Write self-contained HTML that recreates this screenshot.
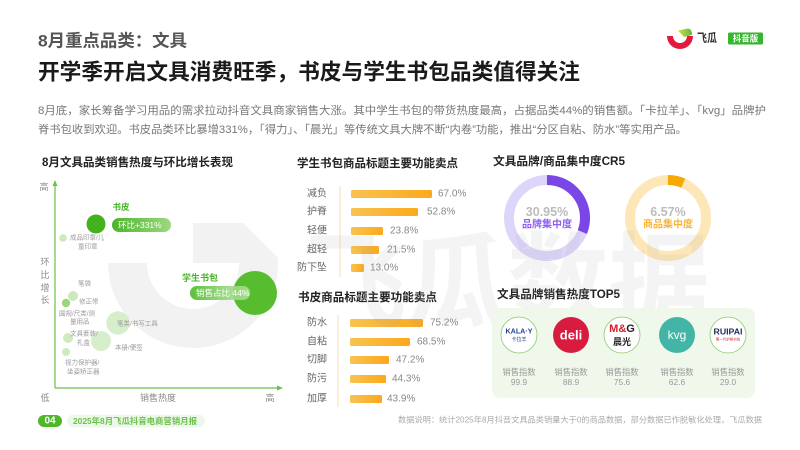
<!DOCTYPE html>
<html><head><meta charset="utf-8">
<style>
html,body{margin:0;padding:0;background:#fff;width:800px;height:450px;overflow:hidden;}
svg{display:block;}
text{font-family:"Liberation Sans","Noto Sans CJK SC",sans-serif;dominant-baseline:central;}
</style></head><body>
<svg width="800" height="450" viewBox="0 0 800 450" xmlns="http://www.w3.org/2000/svg">
<defs>
 <linearGradient id="bar" x1="0" x2="1" y1="0" y2="0"><stop offset="0" stop-color="#f8c350"/><stop offset="1" stop-color="#fca81c"/></linearGradient>
 <linearGradient id="p1" x1="0" x2="1" y1="0" y2="0"><stop offset="0" stop-color="#4db52a"/><stop offset="1" stop-color="#9cd97f"/></linearGradient>
 <linearGradient id="p2" x1="0" x2="1" y1="0" y2="0"><stop offset="0" stop-color="#5cbf38"/><stop offset="1" stop-color="#b5e4a0" stop-opacity="0.8"/></linearGradient>
 <linearGradient id="leaf" x1="0" x2="1" y1="0" y2="0"><stop offset="0" stop-color="#d4dc4a"/><stop offset="1" stop-color="#5fba3a"/></linearGradient>
</defs>
<rect width="800" height="450" fill="#fff"/>

<!-- U watermark shape -->
<path d="M108,263 A85,85 0 0 0 278,263 L278,258 L243,223 L193,223 L193,263 Z M147,263 A46,46 0 0 0 239,263 Z" fill="#f2f2f2" fill-rule="evenodd"/>

<!-- Header -->
<text x="38" y="41" font-size="17" font-weight="bold" fill="#555" textLength="149" lengthAdjust="spacingAndGlyphs">8月重点品类：文具</text>
<text x="38" y="72" font-size="22" font-weight="bold" fill="#1a1a1a" textLength="542" lengthAdjust="spacingAndGlyphs">开学季开启文具消费旺季，书皮与学生书包品类值得关注</text>
<text x="38" y="111" font-size="11" fill="#777" textLength="728" lengthAdjust="spacingAndGlyphs">8月底，家长筹备学习用品的需求拉动抖音文具商家销售大涨。其中学生书包的带货热度最高，占据品类44%的销售额。「卡拉羊」、「kvg」品牌护</text>
<text x="38" y="130" font-size="11" fill="#777" textLength="649" lengthAdjust="spacingAndGlyphs">脊书包收到欢迎。书皮品类环比暴增331%，「得力」、「晨光」等传统文具大牌不断“内卷”功能，推出“分区自粘、防水”等实用产品。</text>

<!-- Top-right logo -->
<path d="M667,36 A13,13 0 0 0 693,36 L687,36 A7,7 0 0 1 673,36 Z" fill="#e11b40"/>
<path d="M678,30.5 L688,28.5 Q692.5,29.5 692,35 L684,37 Z" fill="url(#leaf)"/>
<text x="697" y="38" font-size="12" font-weight="bold" fill="#333" textLength="20" lengthAdjust="spacingAndGlyphs">飞瓜</text>
<rect x="728" y="32.5" width="35" height="12" rx="1.5" fill="#36b52f"/>
<text x="745.5" y="38.5" font-size="8.5" font-weight="bold" fill="#fff" text-anchor="middle">抖音版</text>

<!-- Scatter -->
<text x="42" y="163" font-size="11.5" font-weight="bold" fill="#222" textLength="191" lengthAdjust="spacingAndGlyphs">8月文具品类销售热度与环比增长表现</text>
<line x1="55" y1="388" x2="55" y2="185" stroke="#6cc04a" stroke-width="1.2"/>
<path d="M52.5,186 L55,180 L57.5,186 Z" fill="#6cc04a"/>
<line x1="55" y1="388" x2="278" y2="388" stroke="#6cc04a" stroke-width="1.2"/>
<path d="M277,385.5 L283,388 L277,390.5 Z" fill="#6cc04a"/>
<text x="44" y="187" font-size="9" fill="#888" text-anchor="middle">高</text>
<text x="45" y="262" font-size="9" fill="#888" text-anchor="middle">环</text>
<text x="45" y="275" font-size="9" fill="#888" text-anchor="middle">比</text>
<text x="45" y="288" font-size="9" fill="#888" text-anchor="middle">增</text>
<text x="45" y="300" font-size="9" fill="#888" text-anchor="middle">长</text>
<text x="45" y="398" font-size="9" fill="#888" text-anchor="middle">低</text>
<text x="158" y="398" font-size="9" fill="#888" text-anchor="middle">销售热度</text>
<text x="270" y="398" font-size="9" fill="#888" text-anchor="middle">高</text>

<circle cx="63" cy="238" r="3.8" fill="#cdeabd"/>
<circle cx="73" cy="296" r="5" fill="#cbe9ba"/>
<circle cx="66" cy="303" r="4.2" fill="#9dd67f"/>
<circle cx="118" cy="323" r="11.7" fill="#d6efca"/>
<circle cx="68" cy="338" r="5" fill="#cfeabf"/>
<circle cx="101" cy="341" r="10" fill="#d6efca"/>
<circle cx="66" cy="352" r="4" fill="#cfeabf"/>

<g font-size="6.5" fill="#999">
<text x="70" y="238">成品印章/儿</text>
<text x="78" y="247">童印章</text>
<text x="78" y="284">笔袋</text>
<text x="79" y="302">修正带</text>
<text x="59" y="314">圆规/尺类/测</text>
<text x="70" y="322">量用品</text>
<text x="117" y="324">笔类/书写工具</text>
<text x="70" y="334">文具套装/</text>
<text x="77" y="343">礼盒</text>
<text x="115" y="348">本册/便签</text>
<text x="65" y="363">视力保护器/</text>
<text x="67" y="372">坐姿矫正器</text>
</g>

<circle cx="96" cy="224" r="9.5" fill="#44b11d"/>
<text x="121" y="207" font-size="8.5" font-weight="bold" fill="#48b526" text-anchor="middle">书皮</text>
<rect x="112" y="218" width="59" height="14" rx="7" fill="url(#p1)"/>
<text x="118" y="225" font-size="8.5" fill="#fff">环比+331%</text>

<circle cx="255" cy="293" r="22" fill="#58bd2e"/>
<text x="200" y="278" font-size="9" font-weight="bold" fill="#48b526" text-anchor="middle">学生书包</text>
<rect x="190" y="286" width="60" height="14" rx="7" fill="url(#p2)"/>
<text x="196" y="293" font-size="8.5" fill="#fff">销售占比 44%</text>

<!-- Bar chart 1 -->
<text x="297" y="164" font-size="11.5" font-weight="bold" fill="#222" textLength="161" lengthAdjust="spacingAndGlyphs">学生书包商品标题主要功能卖点</text>
<line x1="340" y1="186" x2="340" y2="277" stroke="#f6dfb0" stroke-width="1"/>
<g font-size="10" fill="#666" text-anchor="end">
<text x="327" y="194">减负</text>
<text x="327" y="212">护脊</text>
<text x="327" y="231">轻便</text>
<text x="327" y="250">超轻</text>
<text x="327" y="268">防下坠</text>
</g>
<rect x="351" y="190" width="81" height="8" rx="1.5" fill="url(#bar)"/>
<rect x="351" y="208" width="67" height="8" rx="1.5" fill="url(#bar)"/>
<rect x="351" y="227" width="32" height="8" rx="1.5" fill="url(#bar)"/>
<rect x="351" y="246" width="28" height="8" rx="1.5" fill="url(#bar)"/>
<rect x="351" y="264" width="13" height="8" rx="1.5" fill="url(#bar)"/>
<g font-size="10" fill="#888">
<text x="438" y="194">67.0%</text>
<text x="427" y="212">52.8%</text>
<text x="390" y="231">23.8%</text>
<text x="387" y="250">21.5%</text>
<text x="370" y="268">13.0%</text>
</g>

<!-- Bar chart 2 -->
<text x="298" y="298" font-size="11.5" font-weight="bold" fill="#222" textLength="139" lengthAdjust="spacingAndGlyphs">书皮商品标题主要功能卖点</text>
<line x1="338" y1="315" x2="338" y2="407" stroke="#f6dfb0" stroke-width="1"/>
<g font-size="10" fill="#666" text-anchor="end">
<text x="327" y="323">防水</text>
<text x="327" y="342">自粘</text>
<text x="327" y="360">切脚</text>
<text x="327" y="379">防污</text>
<text x="327" y="399">加厚</text>
</g>
<rect x="350" y="319" width="73" height="8" rx="1.5" fill="url(#bar)"/>
<rect x="350" y="338" width="60" height="8" rx="1.5" fill="url(#bar)"/>
<rect x="350" y="356" width="39" height="8" rx="1.5" fill="url(#bar)"/>
<rect x="350" y="375" width="36" height="8" rx="1.5" fill="url(#bar)"/>
<rect x="350" y="395" width="32" height="8" rx="1.5" fill="url(#bar)"/>
<g font-size="10" fill="#888">
<text x="430" y="323">75.2%</text>
<text x="417" y="342">68.5%</text>
<text x="396" y="360">47.2%</text>
<text x="392" y="379">44.3%</text>
<text x="387" y="399">43.9%</text>
</g>

<!-- Donuts -->
<text x="493" y="162" font-size="11.5" font-weight="bold" fill="#222" textLength="132" lengthAdjust="spacingAndGlyphs">文具品牌/商品集中度CR5</text>
<circle cx="547" cy="218" r="38" fill="none" stroke="#ded5fa" stroke-width="10"/>
<circle cx="547" cy="218" r="38" fill="none" stroke="#7a46e6" stroke-width="10" stroke-dasharray="73.9 300" transform="rotate(-90 547 218)"/>
<text x="547" y="212" font-size="12.5" font-weight="bold" fill="#bcbcbc" text-anchor="middle">30.95%</text>
<text x="547" y="225" font-size="10" font-weight="bold" fill="#8f5ef3" text-anchor="middle">品牌集中度</text>
<circle cx="668" cy="218" r="38" fill="none" stroke="#fde7b8" stroke-width="10"/>
<circle cx="668" cy="218" r="38" fill="none" stroke="#f8a900" stroke-width="10" stroke-dasharray="15.7 300" transform="rotate(-90 668 218)"/>
<text x="668" y="212" font-size="12.5" font-weight="bold" fill="#bcbcbc" text-anchor="middle">6.57%</text>
<text x="668" y="225" font-size="10" font-weight="bold" fill="#f8b53a" text-anchor="middle">商品集中度</text>

<!-- TOP5 -->
<text x="497" y="295" font-size="11.5" font-weight="bold" fill="#222" textLength="123" lengthAdjust="spacingAndGlyphs">文具品牌销售热度TOP5</text>

<!-- text watermark overlay -->
<text x="305" y="320" font-size="105" font-weight="bold" fill="#a8a8a8" fill-opacity="0.12" style="dominant-baseline:alphabetic" textLength="405" lengthAdjust="spacingAndGlyphs">飞瓜数据</text>

<rect x="492" y="308" width="263" height="90" rx="8" fill="#eff8eb"/>

<circle cx="519" cy="335" r="18" fill="#fff" stroke="#8cc86c" stroke-width="0.8"/>
<text x="519" y="331" font-size="7.5" font-weight="bold" fill="#1f3f95" text-anchor="middle" textLength="27" lengthAdjust="spacingAndGlyphs">KALA·Y</text>
<text x="519" y="340" font-size="5" fill="#1f3f95" text-anchor="middle">卡拉羊</text>

<circle cx="571" cy="335" r="18" fill="#d71c3f"/>
<text x="571" y="335" font-size="13" font-weight="bold" fill="#fff" text-anchor="middle">deli</text>

<circle cx="622" cy="335" r="18" fill="#fff" stroke="#8cc86c" stroke-width="0.8"/>
<text x="622" y="329" font-size="11" font-weight="bold" text-anchor="middle"><tspan fill="#d61f26">M</tspan><tspan fill="#d61f26">&amp;</tspan><tspan fill="#222">G</tspan></text>
<text x="622" y="342" font-size="9" font-weight="bold" fill="#222" text-anchor="middle">晨光</text>

<circle cx="677" cy="335" r="18" fill="#42b5a6"/>
<text x="677" y="335" font-size="12" fill="#fff" text-anchor="middle">kvg</text>

<circle cx="728" cy="335" r="18" fill="#fff" stroke="#8cc86c" stroke-width="0.8"/>
<text x="728" y="332" font-size="8" font-weight="bold" fill="#1a2b5e" text-anchor="middle" textLength="29" lengthAdjust="spacingAndGlyphs">RUIPAI</text>
<text x="728" y="339.5" font-size="3.5" fill="#d22" text-anchor="middle">第一代护脊书包</text>

<g font-size="8.3" fill="#999" text-anchor="middle">
<text x="519" y="372">销售指数</text><text x="519" y="382">99.9</text>
<text x="571" y="372">销售指数</text><text x="571" y="382">88.9</text>
<text x="622" y="372">销售指数</text><text x="622" y="382">75.6</text>
<text x="677" y="372">销售指数</text><text x="677" y="382">62.6</text>
<text x="728" y="372">销售指数</text><text x="728" y="382">29.0</text>
</g>

<!-- Footer -->
<rect x="38" y="415" width="24" height="12" rx="6" fill="#4fb728"/>
<text x="50" y="421" font-size="10" font-weight="bold" fill="#fff" text-anchor="middle">04</text>
<rect x="67" y="414.5" width="138" height="13" rx="6.5" fill="#eef8ea"/>
<text x="73" y="421" font-size="8.4" font-weight="bold" fill="#6cc24b" textLength="124" lengthAdjust="spacingAndGlyphs">2025年8月飞瓜抖音电商营销月报</text>
<text x="398" y="420" font-size="8.2" fill="#aaa" textLength="364" lengthAdjust="spacingAndGlyphs">数据说明：统计2025年8月抖音文具品类销量大于0的商品数据，部分数据已作脱敏化处理，飞瓜数据</text>
</svg>
</body></html>
